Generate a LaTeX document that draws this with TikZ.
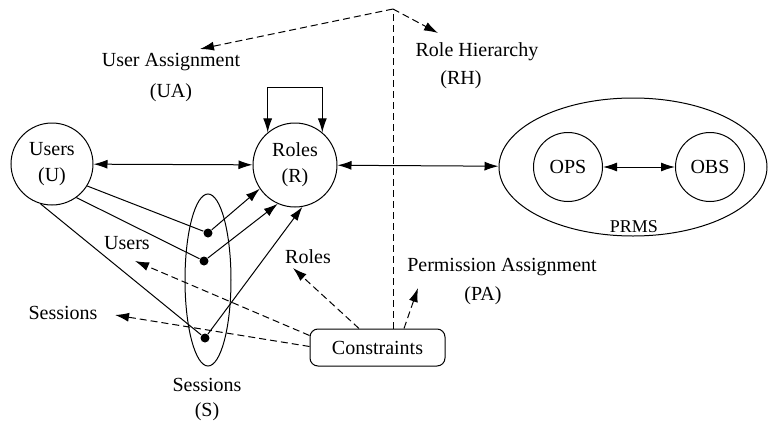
\documentclass[tikz,border=0pt]{standalone}
\usepackage{fontspec}
\setmainfont{Liberation Serif}
\usetikzlibrary{arrows.meta,shapes.geometric,calc}

\begin{document}
\begin{tikzpicture}[x=0.5pt,y=-0.5pt,line width=0.5pt,
  >={Latex[length=7pt,width=4.5pt]},
  font=\fontsize{10}{13}\selectfont,
  ring/.style={draw,circle,inner sep=0pt,align=center},
  dot/.style={circle,fill,inner sep=0pt,minimum size=4.5pt},
  dashline/.style={dash pattern=on 3.5pt off 2pt},
  lbl/.style={inner sep=0pt}]

\useasboundingbox (0,0) rectangle (768,424);

% main entity sets
\node[ring,minimum size=41pt] (U) at (52,164) {Users\\(U)};
\node[ring,minimum size=42pt] (R) at (295,165) {Roles\\(R)};
\node[draw,ellipse,minimum width=134pt,minimum height=69pt] (P) at (633,167) {};
\node[ring,minimum size=34.5pt] (OPS) at (568,167) {OPS};
\node[ring,minimum size=34.5pt] (OBS) at (710,167) {OBS};
\node[lbl,font=\fontsize{9}{11}\selectfont] (prms) at (634,227) {PRMS};

% sessions
\node[draw,ellipse,minimum width=23pt,minimum height=86pt] (S) at (208,280) {};
\node[dot] (d1) at (208,233) {};
\node[dot] (d2) at (204,261) {};
\node[dot] (d3) at (205,338) {};

% constraints
\node[draw,rounded corners=4pt,minimum width=67.5pt,minimum height=18.5pt] (C) at (377.5,347.5) {Constraints};

% labels
\node[lbl] (ua1) at (171,62) {User Assignment};
\node[lbl] (ua2) at (171,93) {(UA)};
\node[lbl] (rh1) at (477,52) {Role Hierarchy};
\node[lbl] (rh2) at (461,80) {(RH)};
\node[lbl] (lu) at (127,243) {Users};
\node[lbl] (ls) at (63,313) {Sessions};
\node[lbl] (lr) at (308,257) {Roles};
\node[lbl] (pa1) at (502,267) {Permission Assignment};
\node[lbl] (pa2) at (483,296) {(PA)};
\node[lbl] (s1) at (207,385) {Sessions};
\node[lbl] (s2) at (207,412) {(S)};

% solid relations
\draw[<->] (U) -- (R);
\draw[<->] (R) -- (P);
\draw[<->] (OPS) -- (OBS);
\draw[<->] (R.130) -- ++(0,-45) -| (R.50);

\draw (U.-32) -- (d1);
\draw (U.-54) -- (d2);
\draw (U.-106) -- (d3);
\draw[->] (d1) -- (R.-146);
\draw[->] (d2) -- (R.-114);
\draw[->] (d3) -- (R.-80);

% dashed references
\coordinate (top) at (393,9);
\coordinate (uatip) at (200,49);
\coordinate (rhtip) at (438,33);
\coordinate (lutip) at (135,261);
\coordinate (lstip) at (115,315);
\coordinate (lrtip) at (293,268);
\coordinate (patip) at (418,288);

\draw[dashline] ($(C.north)+(15.5,0)$) -- (top);
\draw[dashline,->] (top) -- (uatip);
\draw[dashline,->] (top) -- (rhtip);
\draw[dashline,->] ($(C.west)+(0,-12)$) -- (lutip);
\draw[dashline,->] ($(C.west)+(0,-1)$) -- (lstip);
\draw[dashline,->] ($(C.north)+(-18.5,0)$) -- (lrtip);
\draw[dashline,->] ($(C.north)+(26.5,0)$) -- (patip);

\end{tikzpicture}
\end{document}
